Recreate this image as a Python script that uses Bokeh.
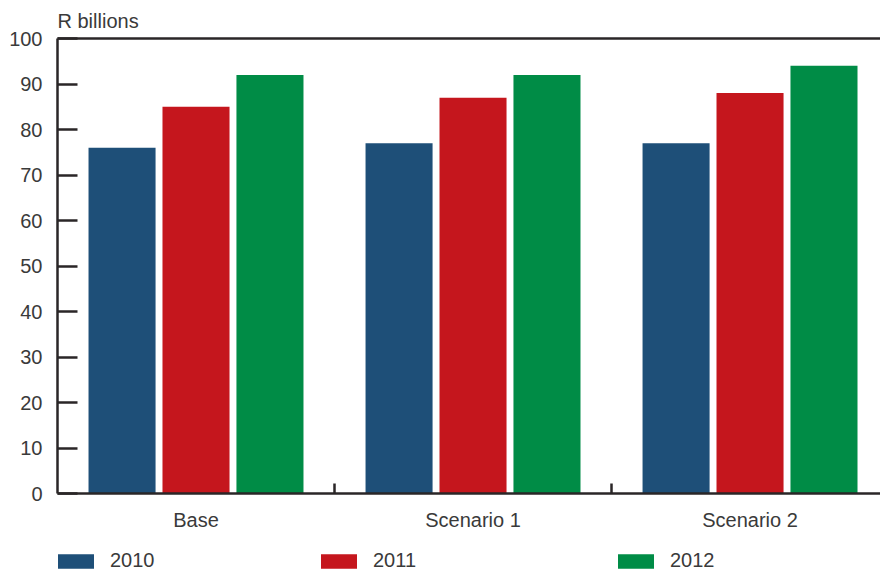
from bokeh.plotting import figure
from bokeh.layouts import column
from bokeh.models import (Range1d, FixedTicker, LinearAxis, Legend, LegendItem,
                          Title, ColumnDataSource)
from bokeh.embed import file_html
from bokeh.resources import INLINE
import numpy as np

# Revenue outlook per scenario, R billions
categories = ["Base", "Scenario 1", "Scenario 2"]
years = ["2010", "2011", "2012"]
values_2010 = [76, 77, 77]
values_2011 = [85, 87, 88]
values_2012 = [92, 92, 94]
y_ticks = list(range(0, 101, 10))

colors = ["#1e4f78", "#c5161d", "#008c46"]
offsets = [-0.267, 0.0, 0.267]
bar_width = 0.242

FONT = "Liberation Sans"
TEXT_COLOR = "#3a3a3a"
AXIS_COLOR = "#2a2627"

p = figure(width=880, height=535, output_backend="svg", toolbar_location=None,
           x_range=Range1d(0, 2.971), y_range=Range1d(0, 100),
           min_border_left=57, min_border_right=0, min_border_top=38,
           min_border_bottom=42)
p.grid.visible = False
p.outline_line_color = None

idx = np.arange(len(categories)) + 0.5
sources = []
for yr, vals, col, off in zip(years, [values_2010, values_2011, values_2012], colors, offsets):
    src = ColumnDataSource(dict(x=idx + off, top=vals, cat=categories))
    sources.append(src)
    p.vbar(x="x", top="top", bottom=0, width=bar_width, source=src,
           fill_color=col, line_color=None)

# y axis: inward ticks every 10
ya = p.yaxis[0]
ya.ticker = FixedTicker(ticks=y_ticks)
ya.major_tick_in = 20
ya.major_tick_out = 0
ya.minor_tick_line_color = None
ya.axis_line_width = 2.5
ya.axis_line_color = AXIS_COLOR
ya.major_tick_line_width = 2.5
ya.major_tick_line_color = AXIS_COLOR
ya.major_label_text_font = FONT
ya.major_label_text_font_size = "20px"
ya.major_label_text_color = TEXT_COLOR
ya.major_label_standoff = 15

# x axis: category names centred, separator ticks between groups
xa = p.xaxis[0]
xa.ticker = FixedTicker(ticks=list(idx), minor_ticks=[1, 2])
xa.major_label_overrides = {float(t): c for t, c in zip(idx, categories)}
xa.major_tick_in = 0
xa.major_tick_out = 0
xa.minor_tick_in = 10
xa.minor_tick_out = 0
xa.minor_tick_line_width = 2.5
xa.minor_tick_line_color = AXIS_COLOR
xa.axis_line_width = 2.5
xa.axis_line_color = AXIS_COLOR
xa.major_label_text_font = FONT
xa.major_label_text_font_size = "20px"
xa.major_label_text_color = TEXT_COLOR
xa.major_label_standoff = 15

# plain rule along the top of the plot area
top = LinearAxis(ticker=FixedTicker(ticks=[]), major_label_text_font_size="0px",
                 axis_line_width=2.5, axis_line_color=AXIS_COLOR,
                 major_tick_line_color=None, minor_tick_line_color=None)
p.add_layout(top, "above")

# unit caption above the y axis
p.add_layout(Title(text="R billions", align="left", text_font=FONT,
                   text_font_size="20px", text_font_style="normal",
                   text_color=TEXT_COLOR, standoff=14), "above")

# legend strip below the chart: one entry per year. The strip's view window
# sits above the bars, so only the legend swatches and labels show.
lg = figure(width=880, height=42, output_backend="svg", toolbar_location=None,
            x_range=Range1d(0, 3), y_range=Range1d(200, 201),
            min_border=0, x_axis_location=None, y_axis_location=None)
lg.grid.visible = False
lg.outline_line_color = None

# area legend glyphs are inset by 10% on each side, so the slot is a bit
# larger than the visible 36x14 swatch
legend_x = [-4, 259, 556]
for yr, src, col, lx in zip(years, sources, colors, legend_x):
    swatch = lg.vbar(x="x", top="top", bottom=0, width=bar_width, source=src,
                     fill_color=col, line_color=None)
    leg = Legend(items=[LegendItem(label=yr, renderers=[swatch])], location=(lx, 5),
                 orientation="horizontal", glyph_width=45, glyph_height=18,
                 label_height=20, label_standoff=12, padding=0, margin=0,
                 border_line_color=None, background_fill_alpha=0,
                 label_text_font=FONT, label_text_font_size="20px",
                 label_text_color=TEXT_COLOR)
    lg.add_layout(leg)

open("out.html", "w").write(file_html(column(p, lg), INLINE))
